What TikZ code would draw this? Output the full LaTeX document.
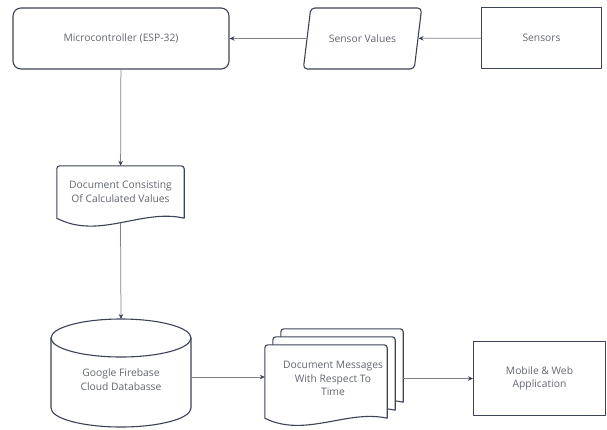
\documentclass[tikz,border=0pt]{standalone}
\usepackage{fontspec}
\setmainfont{Open Sans}
\usetikzlibrary{shapes.geometric,arrows.meta}
\definecolor{edgecol}{HTML}{3D4356}
\definecolor{linkcol}{HTML}{7D828E}
\definecolor{txtcol}{HTML}{62666F}
\begin{document}
\begin{tikzpicture}[x=1pt,y=-1pt, line join=round, line cap=round,>={Stealth[length=5pt,width=4.5pt,color=edgecol]}]

		\tikzset{box/.style={draw=edgecol,line width=1.1pt,text=txtcol,font=\fontsize{10.3}{13.5}\selectfont,align=center},
			txt/.style={text=txtcol,font=\fontsize{10.3}{13.5}\selectfont,align=center,inner sep=0pt},
			frame/.style={inner sep=0pt},
			doc/.style={draw=edgecol,line width=1.1pt,fill=white},
			link/.style={draw=linkcol,line width=.75pt,->}}

		\useasboundingbox (0,0) rectangle (607,429);

		\node[box,rounded corners=8pt,minimum width=216pt,minimum height=61pt] (mcu) at (121,38.5) {Microcontroller (ESP-32)};
		\node[box,trapezium,trapezium left angle=70,trapezium right angle=110,trapezium stretches=true,rounded corners=4pt,minimum width=119pt,minimum height=61pt] (vals) at (362.5,38.5) {Sensor Values};
		\node[box,minimum width=120pt,minimum height=61pt] (sens) at (541.5,38) {Sensors};

		\node[frame,minimum width=127pt,minimum height=52pt] (calc) at (120.5,192) {};
		\draw[doc] (calc.south west) [rounded corners=3pt]-- (calc.north west) -- (calc.north east) [sharp corners]-- (calc.south east) .. controls +(-42,-10) and +(42,22) .. (calc.south west) -- cycle;
		\node[txt] (calctxt) at (calc) {Document Consisting\\Of Calculated Values};

		\draw[doc] (51,338) -- (51,408) arc[start angle=180,end angle=0,x radius=70,y radius=19] -- (191,338);
		\draw[doc] (121,338) ellipse[x radius=70,y radius=19];
		\node[txt] (db) at (121,379.5) {Google Firebase\\Cloud Databasse};
		\coordinate (dbtop) at (121,319);
		\coordinate (dbside) at (191,377);

		\node[frame,minimum width=122pt,minimum height=73pt] (msg) at (326,381.5) {};
		\node[frame,minimum width=122pt,minimum height=73pt] (msgback) at (342,365.5) {};
		\foreach \d in {16,8,0}
		\draw[doc] ([shift={(\d,-\d)}]msg.south west) [rounded corners=3pt]-- ([shift={(\d,-\d)}]msg.north west) -- ([shift={(\d,-\d)}]msg.north east) [sharp corners]-- ([shift={(\d,-\d)}]msg.south east) .. controls +(-40,-9) and +(40,20) .. ([shift={(\d,-\d)}]msg.south west) -- cycle;
		\node[txt] (msgtxt) at (333,378.5) {Document Messages\\With Respect To\\Time};

		\node[box,minimum width=132pt,minimum height=74pt] (app) at (539.5,378.5) {Mobile \& Web\\Application};

		\draw[link] (sens) -- (vals);
		\draw[link] (vals) -- (mcu);
		\draw[link] (mcu) -- (calc);
		\draw[link] ([yshift=-5pt]calc.south) -- (dbtop);
		\draw[link] (dbside) -- (dbside -| msg.west);
		\draw[link] (msgback.east |- app) -- (app);
		\end{tikzpicture}
\end{document}
